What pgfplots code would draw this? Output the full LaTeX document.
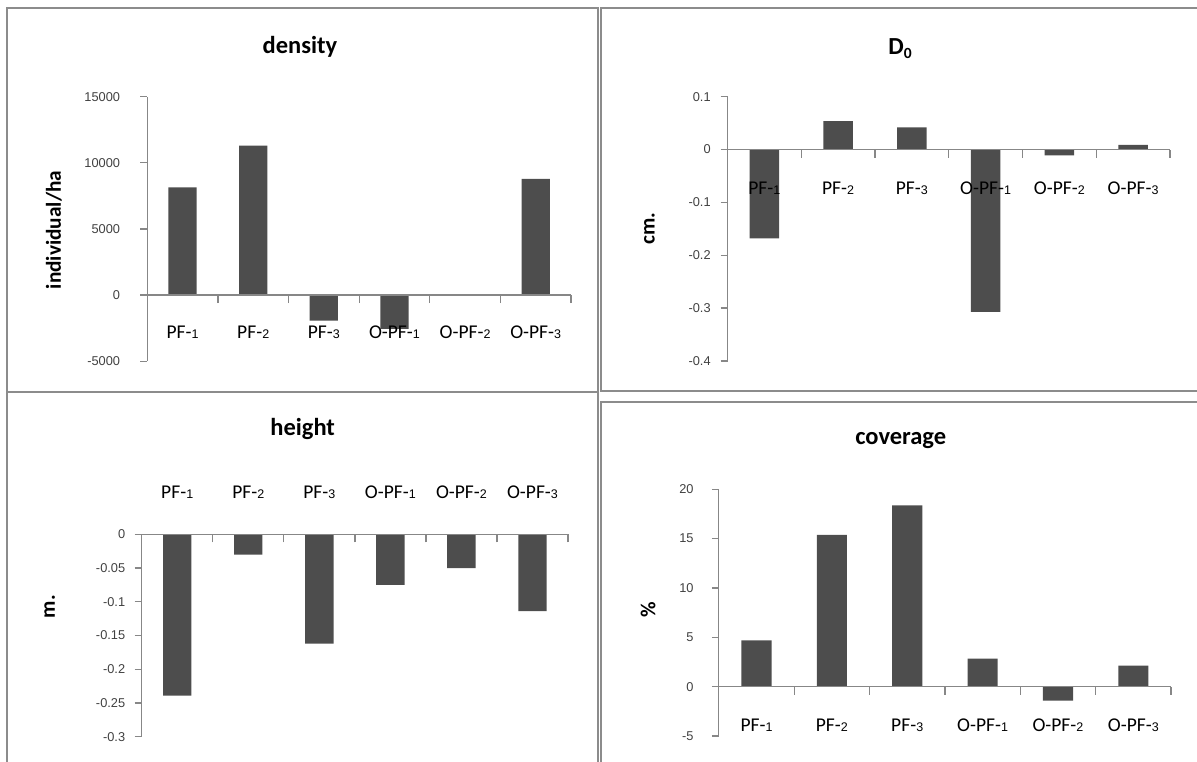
\documentclass[border=0pt]{standalone}
\usepackage{pgfplots}
\pgfplotsset{compat=1.18}
\usepackage{fontspec}
\setmainfont{Carlito}
\newfontfamily\arialf{Liberation Sans}
\definecolor{barc}{HTML}{4D4D4D}
\definecolor{axg}{HTML}{878787}
\definecolor{brd}{HTML}{8C8C8C}
\newcommand\dg[1]{{\arialf\fontsize{12.5}{14}\selectfont #1}}
\pgfplotsset{
 panel/.style={
   scale only axis,
   axis on top,
   scaled y ticks=false,
   axis x line=middle, axis y line=left,
   axis line style={draw=axg, line width=1.3pt, -},
   xmin=-0.5, xmax=5.5,
   xtick={0,...,5},
   xticklabels={{PF-\dg{1}},{PF-\dg{2}},{PF-\dg{3}},{O-PF-\dg{1}},{O-PF-\dg{2}},{O-PF-\dg{3}}},
   major x tick style={draw=none},
   minor xtick={0.5,1.5,2.5,3.5,4.5,5.5},
   minor x tick style={draw=axg, line width=1.3pt},
   minor tick length=8pt,
   major tick length=7pt,
   y tick style={draw=axg, line width=1.3pt},
   tick align=outside,
   xticklabel style={font=\fontsize{19.5}{20}\selectfont, anchor=center, text=black},
   yticklabel style={font=\arialf\fontsize{12.8}{14}\selectfont, text=black!75, anchor=east},
   ybar, bar width=0.4,
   clip=false,
 },
}
\tikzset{
 ttl/.style={font=\bfseries\fontsize{24.5}{26}\selectfont, anchor=base},
 ylab/.style={font=\bfseries\fontsize{21.3}{22}\selectfont, rotate=90, anchor=center},
}
\begin{document}
\begin{tikzpicture}[x=1pt,y=1pt]
\path[use as bounding box] (0,0) rectangle (1197,762);
% panel frames
\begin{scope}[draw=brd, line width=2pt]
\draw (7.3,0) -- (7.3,753.5) -- (597.5,753.5) -- (597.5,0);
\draw (7.3,370.3) -- (597.5,370.3);
\draw (1197,753.5) -- (601,753.5) -- (601,371.3) -- (1197,371.3);
\draw (601,0) -- (601,360.3) -- (1197,360.3);
\end{scope}

% density
\begin{axis}[panel, at={(147.3pt,400.8pt)}, anchor=south west,
  width=423.7pt, height=264.5pt, ymin=-5000, ymax=15000,
  ytick={-5000,0,5000,10000,15000}, yticklabels={-5000,0,5000,10000,15000},
  xticklabel style={yshift=-30}, yticklabel style={xshift=-16.7}]
\addplot[fill=barc, draw=none] coordinates {(0,8150) (1,11300) (2,-1930) (3,-2550) (4,0) (5,8790)};
\end{axis}
\node[ttl] at (300,708.7) {density};
\node[ylab] at (54,532) {individual/ha};

% D0
\begin{axis}[panel, at={(727.5pt,401pt)}, anchor=south west,
  width=442.5pt, height=264.3pt, ymin=-0.4, ymax=0.1,
  ytick={-0.4,-0.3,-0.2,-0.1,0,0.1}, yticklabels={-0.4,-0.3,-0.2,-0.1,0,0.1},
  xticklabel style={yshift=-31.7}, yticklabel style={xshift=-6.3}]
\addplot[fill=barc, draw=none] coordinates {(0,-0.168) (1,0.054) (2,0.042) (3,-0.307) (4,-0.011) (5,0.009)};
\end{axis}
\node[ttl] at (900,707) {D{\fontsize{15.5}{15}\selectfont\raisebox{-4pt}{0}}};
\node[ylab] at (649.5,533.7) {cm.};

% height
\begin{axis}[panel, at={(141.7pt,25.3pt)}, anchor=south west,
  width=426.3pt, height=202.4pt, ymin=-0.3, ymax=0,
  ytick={-0.3,-0.25,-0.2,-0.15,-0.1,-0.05,0}, yticklabels={-0.3,-0.25,-0.2,-0.15,-0.1,-0.05,0},
  xticklabel style={yshift=49}, yticklabel style={xshift=-6}]
\addplot[fill=barc, draw=none] coordinates {(0,-0.239) (1,-0.030) (2,-0.162) (3,-0.075) (4,-0.050) (5,-0.114)};
\end{axis}
\node[ttl] at (302.7,326) {height};
\node[ylab] at (49.8,155.3) {m.};

% coverage
\begin{axis}[panel, at={(718.8pt,26pt)}, anchor=south west,
  width=452.2pt, height=246.7pt, ymin=-5, ymax=20,
  ytick={-5,0,5,10,15,20}, yticklabels={-5,0,5,10,15,20},
  xticklabel style={yshift=-31.6}, yticklabel style={xshift=-14.7}]
\addplot[fill=barc, draw=none] coordinates {(0,4.70) (1,15.37) (2,18.38) (3,2.84) (4,-1.42) (5,2.13)};
\end{axis}
\node[ttl] at (900.7,317) {coverage};
\node[ylab] at (648,152) {\%};
\end{tikzpicture}
\end{document}
